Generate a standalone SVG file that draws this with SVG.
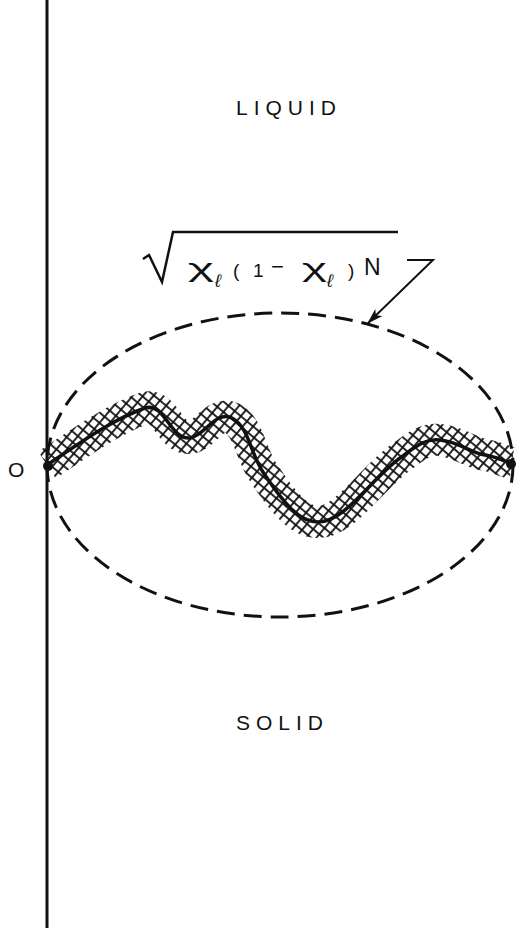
<svg xmlns="http://www.w3.org/2000/svg" width="516" height="932" viewBox="0 0 516 932">
<defs>
<style>
.lbl{font-family:"Liberation Sans","DejaVu Sans",sans-serif;font-size:21px;fill:#111;letter-spacing:6px}
.f{font-family:"Liberation Sans","DejaVu Sans",sans-serif;fill:#111}
.ln{stroke:#111;fill:none}
</style>
<pattern id="hatch" patternUnits="userSpaceOnUse" width="8" height="8" patternTransform="rotate(40)">
<line x1="0" y1="4" x2="8" y2="4" stroke="#111" stroke-width="1.8"/>
<line x1="4" y1="0" x2="4" y2="8" stroke="#111" stroke-width="1.8"/>
</pattern>
<marker id="arr" viewBox="0 0 16 10" refX="15" refY="5" markerWidth="16" markerHeight="10" markerUnits="userSpaceOnUse" orient="auto">
<path d="M0,0 L16,5 L0,10 L4,5 Z" fill="#111"/>
</marker>
</defs>
<rect width="516" height="932" fill="#fff"/>
<g id="axis">
<line class="ln" x1="47" y1="0" x2="47" y2="928" stroke-width="3"/>
</g>
<g id="envelope">
<ellipse class="ln" cx="280" cy="465" rx="233" ry="152" stroke-width="3" stroke-dasharray="18 9"/>
</g>
<g id="interface">
<path d="M47,465 C70,450 110,420 145,408 C165,402 170,440 190,438 C205,436 215,410 232,418 C250,428 250,455 265,475 C285,505 300,522 318,522 C345,522 370,480 400,458 C415,447 425,438 440,440 C460,442 470,453 485,455 C498,457 505,462 512,463" fill="none" stroke="url(#hatch)" stroke-width="32"/>
<path d="M47,465 C70,450 110,420 145,408 C165,402 170,440 190,438 C205,436 215,410 232,418 C250,428 250,455 265,475 C285,505 300,522 318,522 C345,522 370,480 400,458 C415,447 425,438 440,440 C460,442 470,453 485,455 C498,457 505,462 512,463" class="ln" stroke-width="3.5"/>
<circle cx="48" cy="466" r="5" fill="#111"/>
<circle cx="511" cy="464" r="5" fill="#111"/>
</g>
<g id="labels">
<text class="lbl" x="236" y="115">LIQUID</text>
<text class="lbl" x="236" y="730">SOLID</text>
<text class="f" x="8" y="477" font-size="21">O</text>
</g>
<g id="formula">
<path class="ln" d="M143,259 L149,255 L162,282 L173,232 L398,232" stroke-width="2.5"/>
<text class="f" x="188" y="277" font-size="26" textLength="26" lengthAdjust="spacingAndGlyphs">χ</text>
<text class="f" x="215" y="287" font-size="18" font-style="italic">ℓ</text>
<text class="f" x="233" y="277" font-size="19">(</text>
<text class="f" x="253" y="277" font-size="19">1</text>
<text class="f" x="271" y="274" font-size="22">−</text>
<text class="f" x="302" y="277" font-size="26" textLength="25" lengthAdjust="spacingAndGlyphs">χ</text>
<text class="f" x="327" y="287" font-size="18" font-style="italic">ℓ</text>
<text class="f" x="348" y="277" font-size="19">)</text>
<text class="f" x="364" y="275" font-size="23">N</text>
</g>
<g id="connectors">
<path class="ln" d="M407,260 L433,260 L368,323" stroke-width="2" marker-end="url(#arr)"/>
</g>
</svg>
